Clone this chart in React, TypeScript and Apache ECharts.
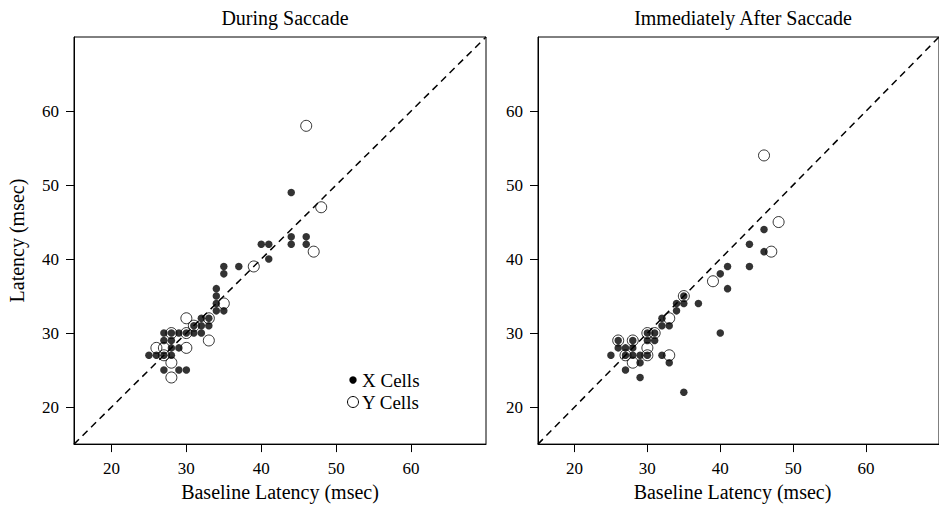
import React, { useEffect, useRef } from "react";
import * as echarts from "echarts";

// During Saccade: X cells (filled) and Y cells (open), [baseline, latency]
const duringX: number[][] = [
  [25, 27], [26, 27], [27, 27], [28, 27],
  [27, 25], [29, 25], [30, 25],
  [28, 28], [29, 28],
  [27, 29], [28, 29],
  [27, 30], [28, 30], [29, 30], [30, 30], [31, 30], [32, 30],
  [31, 31], [32, 31], [33, 31],
  [32, 32], [33, 32],
  [34, 33], [35, 33], [34, 34], [34, 35], [34, 36],
  [35, 38], [35, 39], [37, 39],
  [41, 40], [40, 42], [41, 42],
  [44, 42], [44, 43], [46, 42], [46, 43], [44, 49],
];
const duringY: number[][] = [
  [28, 24], [28, 26], [27, 27], [26, 28], [27, 28], [30, 28], [33, 29],
  [28, 30], [30, 30], [31, 31], [30, 32], [33, 32], [35, 34], [39, 39],
  [47, 41], [48, 47], [46, 58],
];

// Immediately After Saccade
const afterX: number[][] = [
  [25, 27], [26, 28], [26, 29], [27, 28], [28, 28], [28, 29], [27, 27],
  [28, 27], [29, 27], [29, 26], [27, 25], [29, 24], [30, 27], [30, 29],
  [30, 30], [31, 29], [31, 30], [32, 31], [32, 32], [33, 31], [32, 27],
  [33, 26], [34, 33], [34, 34], [35, 34], [35, 35], [37, 34], [35, 22],
  [40, 30], [41, 36], [40, 38], [41, 39], [44, 39], [44, 42], [46, 41],
  [46, 44],
];
const afterY: number[][] = [
  [26, 29], [28, 29], [27, 27], [30, 27], [30, 30], [31, 30], [30, 28],
  [28, 26], [33, 27], [33, 32], [35, 35], [39, 37], [47, 41], [48, 45],
  [46, 54],
];

const axisMin = 15;
const axisMax = 70;
const tickValues = [20, 30, 40, 50, 60];
const diagonal: number[][] = [[15, 15], [70, 70]];
const panelTitles = ["During Saccade", "Immediately After Saccade"];
const legendNames = ["X Cells", "Y Cells"];

const FONT = "'Liberation Serif', 'Times New Roman', serif";

export default function App() {
  const ref = useRef<HTMLDivElement>(null);
  useEffect(() => {
    if (!ref.current) return;
    const chart = echarts.init(ref.current, null, { renderer: "svg" });

    const mkX = (gi: number, padRight: number) => ({
      type: "value",
      gridIndex: gi,
      min: axisMin,
      max: axisMax,
      axisLine: { show: true, onZero: false, lineStyle: { color: "#000", width: 1 } },
      axisTick: { show: true, length: 8, customValues: tickValues, lineStyle: { color: "#000" } },
      axisLabel: { customValues: tickValues, fontFamily: FONT, fontSize: 17, color: "#000", margin: 16 },
      splitLine: { show: false },
      name: "Baseline Latency (msec)",
      nameLocation: "middle",
      nameGap: 36,
      nameTextStyle: { fontFamily: FONT, fontSize: 20, color: "#000", padding: [0, padRight, 0, 0] },
    });
    const mkY = (gi: number, withName: boolean) => ({
      type: "value",
      gridIndex: gi,
      min: axisMin,
      max: axisMax,
      axisLine: { show: true, onZero: false, lineStyle: { color: "#000", width: 1 } },
      axisTick: { show: true, length: 8, customValues: tickValues, lineStyle: { color: "#000" } },
      axisLabel: { customValues: tickValues, fontFamily: FONT, fontSize: 17, color: "#000", margin: 15 },
      splitLine: { show: false },
      name: withName ? "Latency (msec)" : "",
      nameLocation: "middle",
      nameGap: 47,
      nameTextStyle: { fontFamily: FONT, fontSize: 20, color: "#000" },
    });

    const openStyle = { color: "rgba(0,0,0,0)", borderColor: "#000", borderWidth: 1 };
    const filledStyle = { color: "#000" };
    const mkSeries = (gi: number, xs: number[][], ys: number[][]) => [
      {
        type: "line",
        xAxisIndex: gi,
        yAxisIndex: gi,
        data: diagonal,
        symbol: "none",
        silent: true,
        lineStyle: { color: "#000", width: 1.5, type: [7, 5] },
        z: 1,
      },
      {
        name: legendNames[1],
        type: "scatter",
        xAxisIndex: gi,
        yAxisIndex: gi,
        data: ys,
        symbol: "circle",
        symbolSize: 11,
        itemStyle: openStyle,
        z: 2,
      },
      {
        name: legendNames[0],
        type: "scatter",
        xAxisIndex: gi,
        yAxisIndex: gi,
        data: xs,
        symbol: "circle",
        symbolSize: 7.5,
        itemStyle: filledStyle,
        z: 3,
      },
    ];

    chart.setOption({
      animation: false,
      backgroundColor: "#fff",
      title: [
        {
          text: panelTitles[0],
          left: 280,
          top: 3,
          textAlign: "center",
          textStyle: { fontFamily: FONT, fontSize: 20, fontWeight: "normal", color: "#000" },
        },
        {
          text: panelTitles[1],
          left: 738,
          top: 3,
          textAlign: "center",
          textStyle: { fontFamily: FONT, fontSize: 20, fontWeight: "normal", color: "#000" },
        },
      ],
      grid: [
        { left: 74, top: 37, width: 412, height: 415, show: true, borderColor: "#000", borderWidth: 1, backgroundColor: "transparent" },
        { left: 538, top: 37, width: 412, height: 415, show: true, borderColor: "#000", borderWidth: 1, backgroundColor: "transparent" },
      ],
      xAxis: [mkX(0, 0), mkX(1, 12)],
      yAxis: [mkY(0, true), mkY(1, false)],
      series: [...mkSeries(0, duringX, duringY), ...mkSeries(1, afterX, afterY)],
      graphic: [
        { type: "circle", shape: { cx: 353, cy: 380, r: 3.7 }, style: { fill: "#000" } },
        { type: "circle", shape: { cx: 353, cy: 402, r: 5.5 }, style: { fill: "none", stroke: "#000", lineWidth: 1 } },
        { type: "text", x: 362, y: 380, style: { text: legendNames[0], font: `19px ${FONT}`, fill: "#000", textAlign: "left", textVerticalAlign: "middle" } },
        { type: "text", x: 362, y: 402, style: { text: legendNames[1], font: `19px ${FONT}`, fill: "#000", textAlign: "left", textVerticalAlign: "middle" } },
      ],
    });
    return () => chart.dispose();
  }, []);
  return (
    <div
      ref={ref}
      style={{ position: "fixed", left: 0, top: 0, width: 939, height: 507, background: "#fff" }}
    />
  );
}
